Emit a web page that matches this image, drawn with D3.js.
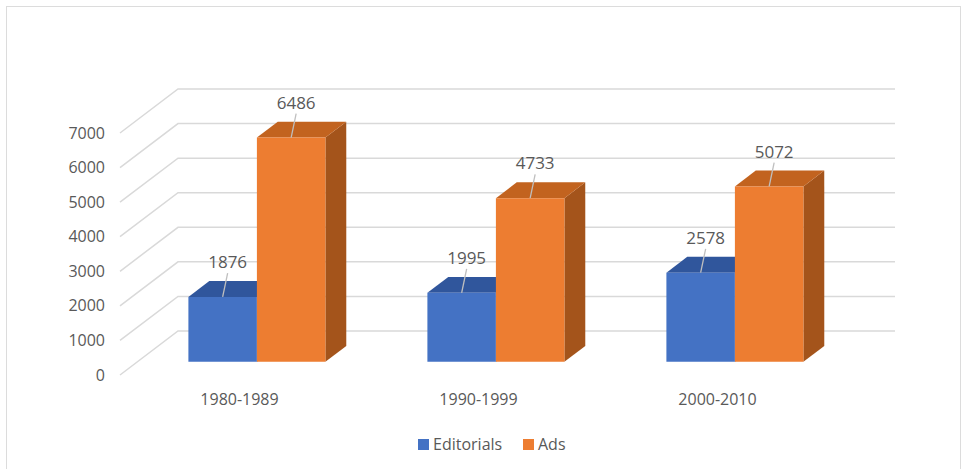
<!DOCTYPE html>
<html><head><meta charset="utf-8">
<script src="https://cdn.jsdelivr.net/npm/d3@7"></script>
<style>html,body{margin:0;padding:0;background:#fff;}svg{display:block;font-family:"Open Sans",sans-serif;}</style>
</head><body>
<svg id="c" width="963" height="469"></svg>
<script>
const categories = ["1980-1989", "1990-1999", "2000-2010"];
const seriesNames = ["Editorials", "Ads"];
const editorials = [1876, 1995, 2578];
const ads = [6486, 4733, 5072];
const yTicks = [0, 1000, 2000, 3000, 4000, 5000, 6000, 7000];

const colors = {
  Editorials: {front: "#4472C4", top: "#30569c", side: "#2c4f8f"},
  Ads: {front: "#ED7D31", top: "#c2631f", side: "#a4541b"}
};
const textColor = "#595959";
const gridColor = "#d9d9d9";

const svg = d3.select("#c");
// chart border (bottom edge falls outside the picture)
svg.append("rect").attr("x", 6.5).attr("y", 6.5).attr("width", 954).attr("height", 470)
  .attr("fill", "#fff").attr("stroke", "#dcdcdc").attr("stroke-width", 1);

const DX = 58, DY = 44; // full depth offset
const P = (x, y, z) => [x + DX * z, y - DY * z];
const y = d3.scaleLinear().domain([0, 7000]).range([375, 133]);
const x0 = d3.scaleBand().domain(categories).range([120, 837]);
const x1 = d3.scaleBand().domain(seriesNames).range([51, 188]);
const zFront = 0.3, zBack = 0.66;

const g = svg.append("g");
// gridlines: floor-side diagonals and back wall lines
yTicks.forEach(t => {
  const a = P(120, y(t), 0), b = P(120, y(t), 1), c = P(837, y(t), 1);
  g.append("path").attr("d", `M${a}L${b}L${c}`).attr("fill", "none")
    .attr("stroke", gridColor).attr("stroke-width", 1.5);
});
// y tick labels
g.selectAll("text.yt").data(yTicks).enter().append("text").attr("class", "yt")
  .attr("x", 105).attr("y", d => y(d)).attr("dy", "0.35em").attr("text-anchor", "end")
  .attr("fill", textColor).attr("font-size", 16).text(d => d);

// bars
const data = [];
categories.forEach((c, i) => {
  data.push({cat: c, s: "Editorials", v: editorials[i]});
  data.push({cat: c, s: "Ads", v: ads[i]});
});
const bars = g.append("g");
data.forEach(d => {
  const xl = x0(d.cat) + x1(d.s), xr = xl + x1.bandwidth();
  const col = colors[d.s];
  const fbl = P(xl, y(0), zFront), fbr = P(xr, y(0), zFront);
  const ftl = P(xl, y(d.v), zFront), ftr = P(xr, y(d.v), zFront);
  const btl = P(xl, y(d.v), zBack), btr = P(xr, y(d.v), zBack), bbr = P(xr, y(0), zBack);
  bars.append("path").attr("d", `M${ftr}L${btr}L${bbr}L${fbr}Z`).attr("fill", col.side);
  bars.append("path").attr("d", `M${ftl}L${btl}L${btr}L${ftr}Z`).attr("fill", col.top);
  bars.append("path").attr("d", `M${ftl}L${ftr}L${fbr}L${fbl}Z`).attr("fill", col.front);
});
// data labels with leader lines
data.forEach(d => {
  const xl = x0(d.cat) + x1(d.s), xr = xl + x1.bandwidth();
  const fc = P((xl + xr) / 2, y(d.v), zFront);
  const bk = P((xl + xr) / 2, y(d.v), zBack);
  const lx = fc[0] + 5, ly = bk[1] - 13;
  g.append("line").attr("x1", lx).attr("y1", ly + 5).attr("x2", fc[0]).attr("y2", fc[1])
    .attr("stroke", "#bfbfbf").attr("stroke-width", 1.3);
  g.append("text").attr("x", lx).attr("y", ly).attr("text-anchor", "middle")
    .attr("fill", textColor).attr("font-size", 17).text(d.v);
});
// category labels
g.selectAll("text.cat").data(categories).enter().append("text").attr("class", "cat")
  .attr("x", d => x0(d) + x0.bandwidth() / 2).attr("y", 405).attr("text-anchor", "middle")
  .attr("fill", textColor).attr("font-size", 16).text(d => d);

// legend
const legend = svg.append("g");
const legItems = [{n: "Editorials", x: 418}, {n: "Ads", x: 523}];
legItems.forEach(it => {
  legend.append("rect").attr("x", it.x).attr("y", 439).attr("width", 11).attr("height", 11)
    .attr("fill", colors[it.n].front);
  legend.append("text").attr("x", it.x + 15).attr("y", 450).attr("fill", textColor)
    .attr("font-size", 16).text(it.n);
});
</script>
</body></html>
